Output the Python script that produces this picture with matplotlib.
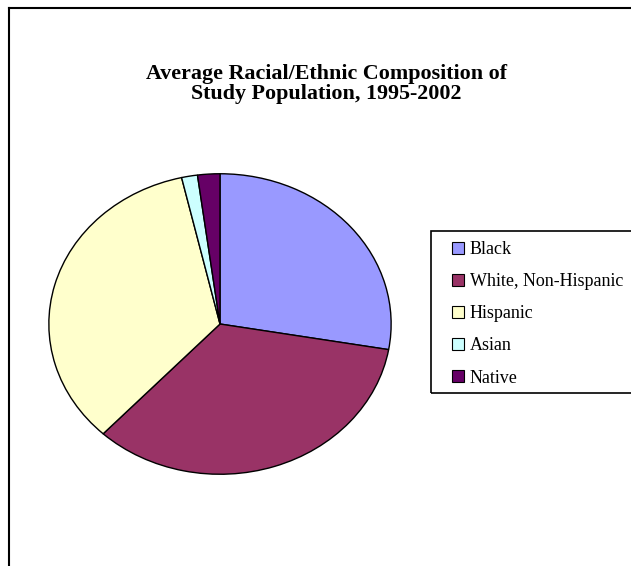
import matplotlib
matplotlib.use("Agg")
import matplotlib.pyplot as plt
from matplotlib.patches import Rectangle
from matplotlib.lines import Line2D

categories = ["Black", "White, Non-Hispanic", "Hispanic", "Asian", "Native"]
values = [27.7, 34.2, 34.4, 1.5, 2.1]
colors = ["#9999FF", "#993366", "#FFFFCC", "#CCFFFF", "#660066"]
title = "Average Racial/Ethnic Composition of\nStudy Population, 1995-2002"

W, H = 631, 566
fig = plt.figure(figsize=(W / 100, H / 100), dpi=100)
fig.patch.set_facecolor("white")

def fx(px):
    return px / W

def fy(py):
    return 1 - py / H

# outer chart border (extends past right/bottom edge)
fig.add_artist(Line2D([fx(8.5), fx(640)], [fy(7.5), fy(7.5)], color="black", lw=1.5))
fig.add_artist(Line2D([fx(8.5), fx(8.5)], [fy(7.5), fy(580)], color="black", lw=1.5))

# pie axes (elliptical)
left, right, top, bottom = 48, 392, 173, 475
ax = fig.add_axes([fx(left), fy(bottom), fx(right - left), (bottom - top) / H])
wedges, _ = ax.pie(values, colors=colors, startangle=90, counterclock=False,
                   wedgeprops=dict(edgecolor="black", linewidth=1.0))
ax.set_aspect("auto")
ax.set_xlim(-1.005, 1.005)
ax.set_ylim(-1.005, 1.005)
ax.axis("off")

fig.text(fx(326), fy(84), title, ha="center", va="center", fontsize=15.8,
         fontweight="bold", family="Liberation Serif", linespacing=1.0)

# legend box
fig.add_artist(Rectangle((fx(431), fy(393)), fx(260), (393 - 231) / H,
                         transform=fig.transFigure, fill=False, edgecolor="black", lw=1.2))
leg = fig.legend(wedges, categories, loc="upper left",
                 bbox_to_anchor=(fx(452), fy(241)), frameon=False,
                 prop=dict(family="Liberation Serif", size=13),
                 handlelength=0.66, handleheight=0.66, handletextpad=0.33,
                 labelspacing=0.84, borderpad=0, borderaxespad=0)
for h in leg.legend_handles:
    h.set_linewidth(0.8)

fig.savefig("out.png", dpi=100)
